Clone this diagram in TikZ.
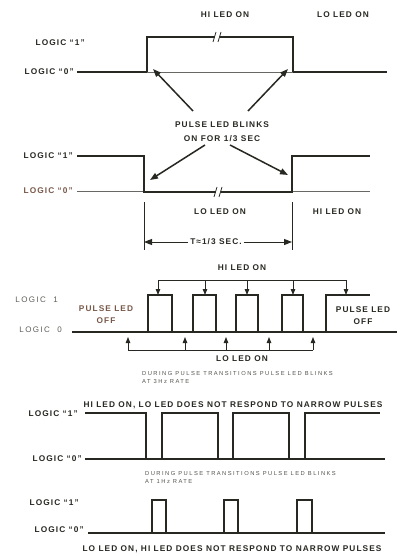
\documentclass[tikz,border=0pt]{standalone}
\usepackage{fontspec}
\setmainfont{Liberation Sans}
\newfontfamily\tdfont[LetterSpace=13]{Liberation Sans Bold}
\newfontfamily\tdlight[LetterSpace=18]{Liberation Sans}
\newfontfamily\tdnotefont[LetterSpace=25]{Liberation Sans}
\usetikzlibrary{positioning,arrows.meta}
\definecolor{tdink}{RGB}{40,40,34}
\definecolor{tdbrown}{RGB}{120,88,72}
\tikzset{
  tdlabel/.style={
    font={\tdfont\fontsize{8.3}{12}\selectfont},
    text=tdink,
    inner sep=0pt,
    align=center
  },
  tdlevel/.style={
    tdlabel,
    anchor=east
  },
  tdnote/.style={
    font={\tdnotefont\fontsize{5.8}{8}\selectfont},
    text=tdink!80,
    inner sep=0pt,
    align=left,
    anchor=north west
  },
  tdsig/.style={
    draw=tdink,
    line width=1.2pt,
    line join=miter
  },
  tdthin/.style={
    draw=tdink!70,
    line width=0.7pt
  },
  tdarrow/.style={
    -{Triangle[length=8pt,width=6pt]},
    line width=1.5pt,
    draw=tdink
  },
  tdtick/.style={
    -{Triangle[length=6pt,width=4.5pt]},
    line width=0.9pt,
    draw=tdink
  }
}
\newcommand{\tdbreak}[1]{%
  \begin{scope}[shift={#1}]
    \fill[white] (-2.5,-3) rectangle (2.5,3);
    \draw[tdink, line width=0.8pt] (-4,5) -- (-1,-5) (1,5) -- (4,-5);
  \end{scope}}

\begin{document}
\begin{tikzpicture}[x=1pt, y=-1pt]
    \useasboundingbox (0,0) rectangle (404,556);

    \node (hion1) [tdlabel] at (225,15) {HI LED ON};
    \node (loon1) [tdlabel] at (343,15) {LO LED ON};
    \node (one1) [tdlevel] at (85,43) {LOGIC “1”};
    \node (zero1) [tdlevel] at (74,72) {LOGIC “0”};
    \draw[tdsig] (77,72) -- (147,72) -- (147,37) -- (293,37) -- (293,72) -- (387,72);
    \draw[tdthin] (147,72) -- (293,72);
    \tdbreak{(217,37)}
    \node (blink) [tdlabel, font={\tdfont\fontsize{8.3}{14}\selectfont}] at (222,132) {PULSE LED BLINKS\\ON FOR 1/3 SEC};
    \coordinate (up1) at (153,69);
    \coordinate (up2) at (288,69);
    \coordinate (tail1) at (193,111);
    \coordinate (tail2) at (248,111);
    \draw[tdarrow] (tail1) -- (up1);
    \draw[tdarrow] (tail2) -- (up2);

    \node (one2) [tdlevel] at (73,156) {LOGIC “1”};
    \node (zero2) [tdlevel, text=tdbrown] at (73,191) {LOGIC “0”};
    \draw[tdthin] (77,191) -- (144,191);
    \draw[tdthin] (292,191) -- (370,191);
    \draw[tdsig] (77,156) -- (144,156) -- (144,192) -- (292,192) -- (292,156) -- (370,156);
    \tdbreak{(218,192)}
    \coordinate (tail3) at (205,145);
    \coordinate (tail4) at (230,145);
    \coordinate (dn1) at (150,180);
    \coordinate (dn2) at (288,175);
    \draw[tdarrow] (tail3) -- (dn1);
    \draw[tdarrow] (tail4) -- (dn2);
    \node (loon2) [tdlabel] at (220,212) {LO LED ON};
    \node (hion2) [tdlabel] at (337,212) {HI LED ON};
    \coordinate (tl) at (144,242);
    \coordinate (tr) at (292,242);
    \draw[tdink, line width=0.7pt] (144,202) -- (144,250) (292,202) -- (292,250);
    \node (tsec) [tdlabel, fill=white, inner xsep=2pt] at (216,242) {T≈1/3 SEC.};
    \draw[tdarrow, line width=1pt] (tsec.west) -- (tl);
    \draw[tdarrow, line width=1pt] (tsec.east) -- (tr);

    \node (hion3) [tdlabel] at (242,268) {HI LED ON};
    \node (one3) [tdlevel, font={\tdlight\fontsize{8}{12}\selectfont}, text=tdink!75] at (58,300) {LOGIC~~1};
    \node (zero3) [tdlevel, font={\tdlight\fontsize{8}{12}\selectfont}, text=tdink!75] at (62,330) {LOGIC~~0};
    \node (offl) [tdlabel, text=tdbrown] at (106,315) {PULSE LED\\OFF};
    \node (offr) [tdlabel] at (363,316) {PULSE LED\\OFF};
    \draw[tdsig] (72,332) -- (397,332);
    \draw[tdsig] (148,332) -- (148,295) -- (172,295) -- (172,332)
      (193,332) -- (193,295) -- (216,295) -- (216,332)
      (236,332) -- (236,295) -- (258,295) -- (258,332)
      (282,332) -- (282,295) -- (303,295) -- (303,332)
      (326,332) -- (326,295) -- (370,295);
    \foreach \xx [count=\i] in {158,205,247,293,346} {
      \coordinate (hb\i) at (\xx,280);
      \coordinate (ht\i) at (\xx,295);
      \draw[tdtick] (hb\i) -- (ht\i);
    }
    \draw[tdink, line width=0.9pt] (hb1) -- (hb5);
    \foreach \xx [count=\i] in {128,185,226,269,313} {
      \coordinate (lb\i) at (\xx,350);
      \coordinate (lt\i) at (\xx,337);
      \draw[tdtick] (lb\i) -- (lt\i);
    }
    \draw[tdink, line width=0.9pt] (lb1) -- (lb5);
    \node (loon3) [tdlabel] at (242,359) {LO LED ON};
    \node (note3) [tdnote] at (142,371) {DURING PULSE TRANSITIONS PULSE LED BLINKS\\AT 3Hz RATE};

    \node (head4) [tdlabel] at (233,405) {HI LED ON, LO LED DOES NOT RESPOND TO NARROW PULSES};
    \node (one4) [tdlevel] at (78,414) {LOGIC “1”};
    \node (zero4) [tdlevel] at (82,459) {LOGIC “0”};
    \draw[tdsig] (85,459) -- (385,459);
    \draw[tdsig] (85,413) -- (146,413) -- (146,459)
      (162,459) -- (162,413) -- (218,413) -- (218,459)
      (233,459) -- (233,413) -- (289,413) -- (289,459)
      (305,459) -- (305,413) -- (380,413);

    \node (note5) [tdnote] at (145,471) {DURING PULSE TRANSITIONS PULSE LED BLINKS\\AT 1Hz RATE};
    \node (one5) [tdlevel] at (79,503) {LOGIC “1”};
    \node (zero5) [tdlevel] at (84,530) {LOGIC “0”};
    \draw[tdsig] (88,533) -- (385,533);
    \draw[tdsig] (152,533) -- (152,500) -- (166,500) -- (166,533)
      (224,533) -- (224,500) -- (238,500) -- (238,533)
      (297,533) -- (297,500) -- (312,500) -- (312,533);
    \node (foot5) [tdlabel] at (232,549) {LO LED ON, HI LED DOES NOT RESPOND TO NARROW PULSES};
  \end{tikzpicture}
\end{document}
